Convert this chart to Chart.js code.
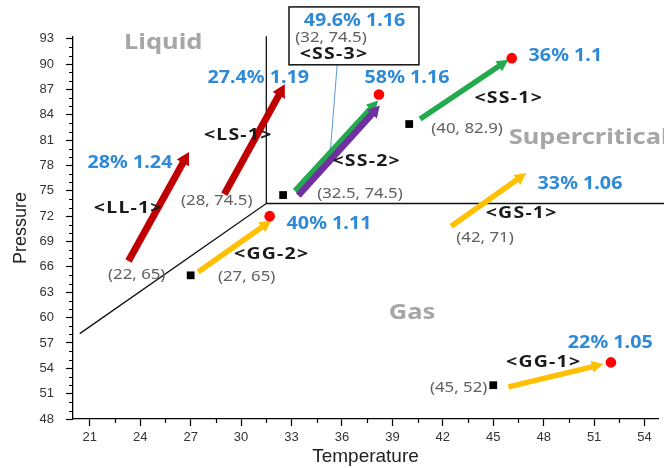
<!DOCTYPE html>
<html><head><meta charset="utf-8">
<script src="https://cdn.jsdelivr.net/npm/chart.js@4/dist/chart.umd.min.js"></script>
<style>html,body{margin:0;padding:0;background:#fff}</style>
</head><body>
<canvas id="c" width="664" height="468"></canvas>
<script>
// ---- axis ticks ----
const xTicks = [21, 24, 27, 30, 33, 36, 39, 42, 45, 48, 51, 54];
const yTicks = [48, 51, 54, 57, 60, 63, 66, 69, 72, 75, 78, 81, 84, 87, 90, 93];

// ---- runs (same order in every array) ----
const runNames   = ['<LL-1>', '<LS-1>', '<SS-2>', '<SS-3>', '<SS-1>', '<GS-1>', '<GG-2>', '<GG-1>'];
const runResults = ['28% 1.24', '27.4% 1.19', '58% 1.16', '49.6% 1.16', '36% 1.1', '33% 1.06', '40% 1.11', '22% 1.05'];
const runStarts  = ['(22, 65)', '(28, 74.5)', '(32.5, 74.5)', '(32, 74.5)', '(40, 82.9)', '(42, 71)', '(27, 65)', '(45, 52)'];
const arrowStartT = [23.3, 29.0, 33.2, 33.4, 40.65, 42.5, 27.44, 45.9];
const arrowStartP = [66.7, 74.6, 75.0, 74.45, 83.5, 70.8, 65.4, 51.8];
const arrowEndT   = [26.9, 32.6, 38.15, 38.25, 45.9, 46.97, 31.8, 51.55];
const arrowEndP   = [79.6, 87.6, 85.7, 85.1, 90.5, 77.1, 71.5, 54.5];

// ---- markers ----
const startMarkT = [27, 32.5, 40, 45];
const startMarkP = [65, 74.5, 82.9, 52];
const endMarkT = [31.7, 38.2, 46.1, 52.0];
const endMarkP = [72.0, 86.4, 90.7, 54.7];

// ---- phase boundaries ----
const critT = 31.5, critP = 73.5;
const boundaryLowT = 20.4, boundaryLowP = 58.1;
const boundaryTopP = 93.3, boundaryRightT = 56;
const phaseNames = ['Liquid', 'Supercritical', 'Gas'];

// ---- SS-3 callout leader ----
const leaderT = [35.79, 35.29];
const leaderP = [91.85, 79.17];

// ---------------- styles / layout ----------------
const arrowStyle = [
  {c:'#c00000', w:7, L:12, H:7},
  {c:'#c00000', w:7, L:12, H:7},
  {c:'#22aa4c', w:5.5, L:11, H:6},
  {c:'#7030a0', w:6.5, L:11, H:6.5},
  {c:'#22aa4c', w:5.5, L:11, H:6},
  {c:'#ffc000', w:5.5, L:11, H:6},
  {c:'#ffc000', w:5.5, L:11, H:6},
  {c:'#ffc000', w:5.5, L:11, H:6}
];
// label anchor positions (data coords) : name, result, start-coordinate
const namePos   = [[23.29,72.88],[29.83,81.53],[37.47,78.46],null,[45.92,85.93],[46.69,72.29],[31.82,67.48],[48.0,54.69]];
const resultPos = [[23.39,78.31],[31.02,88.34],[39.87,88.34],null,[49.29,90.98],[50.16,75.83],[35.23,71.02],[51.96,56.94]];
const startPos  = [[23.79,65.04],[28.55,73.77],[37.07,74.65],null,[43.44,82.32],[44.51,69.45],[30.33,64.8],[42.94,51.66]];
const phasePos  = [[25.37,92.55,'center'],[45.92,81.33,'left'],[40.17,60.6,'center']];
const calloutBox = {t0:32.85, t1:40.58, p0:96.76, p1:89.91};

const datasets = [];
for (let i = 0; i < arrowStartT.length; i++) {
  const s = arrowStyle[i];
  datasets.push({
    label: runNames[i],
    data: [{x: arrowStartT[i], y: arrowStartP[i]}, {x: arrowEndT[i], y: arrowEndP[i]}],
    showLine: true, borderColor: s.c, backgroundColor: s.c, borderWidth: s.w,
    borderCapStyle: 'butt', pointRadius: 0, isArrow: true, headLen: s.L, headHalf: s.H,
    order: 20 - i, clip: false
  });
}
datasets.push({
  label: 'start', data: startMarkT.map((t, i) => ({x: t, y: startMarkP[i]})),
  pointStyle: 'rect', pointRadius: 5.5, backgroundColor: '#000', borderWidth: 0, order: 1, clip: false
});
datasets.push({
  label: 'end', data: endMarkT.map((t, i) => ({x: t, y: endMarkP[i]})),
  pointStyle: 'circle', pointRadius: 5.3, backgroundColor: '#ff0000', borderWidth: 0, order: 0, clip: false
});
datasets.push({
  label: 'boundary', data: [{x: boundaryLowT, y: boundaryLowP}, {x: critT, y: critP}, {x: critT, y: boundaryTopP}],
  showLine: true, borderColor: '#111', borderWidth: 1.3, pointRadius: 0, order: 40, clip: false
});
datasets.push({
  label: 'boundary2', data: [{x: critT, y: critP}, {x: boundaryRightT, y: critP}],
  showLine: true, borderColor: '#111', borderWidth: 1.3, pointRadius: 0, order: 40, clip: false
});
datasets.push({
  label: 'leader', data: leaderT.map((t, i) => ({x: t, y: leaderP[i]})),
  showLine: true, borderColor: '#5b9bd5', borderWidth: 1, pointRadius: 0, order: 30, clip: false
});

function headGeom(chart, ds) {
  const xs = chart.scales.x, ys = chart.scales.y, d = ds.data;
  const x0 = xs.getPixelForValue(d[0].x), y0 = ys.getPixelForValue(d[0].y);
  const x1 = xs.getPixelForValue(d[1].x), y1 = ys.getPixelForValue(d[1].y);
  const len = Math.hypot(x1 - x0, y1 - y0);
  const ux = (x1 - x0) / len, uy = (y1 - y0) / len;
  return {x1, y1, ux, uy, nx: -uy, ny: ux, L: ds.headLen, W: ds.headHalf,
          bx: x1 - ux * ds.headLen, by: y1 - uy * ds.headLen};
}

const arrowPlugin = {
  id: 'arrowHeads',
  beforeDatasetDraw(chart, args) {
    const ds = chart.data.datasets[args.index];
    if (!ds.isArrow) return;
    const g = headGeom(chart, ds), ctx = chart.ctx, E = g.W + 6, F = g.L + 12;
    ctx.save();
    ctx.beginPath();
    ctx.rect(0, 0, chart.width, chart.height);
    ctx.moveTo(g.bx + g.nx * E, g.by + g.ny * E);
    ctx.lineTo(g.bx + g.nx * E + g.ux * F, g.by + g.ny * E + g.uy * F);
    ctx.lineTo(g.bx - g.nx * E + g.ux * F, g.by - g.ny * E + g.uy * F);
    ctx.lineTo(g.bx - g.nx * E, g.by - g.ny * E);
    ctx.closePath();
    ctx.clip('evenodd');
  },
  afterDatasetDraw(chart, args) {
    const ds = chart.data.datasets[args.index];
    if (!ds.isArrow) return;
    const ctx = chart.ctx;
    ctx.restore();
    const g = headGeom(chart, ds);
    const bx = g.bx - g.ux * 0.6, by = g.by - g.uy * 0.6;
    ctx.save();
    ctx.fillStyle = ds.borderColor;
    ctx.beginPath();
    ctx.moveTo(g.x1, g.y1);
    ctx.lineTo(bx + g.nx * g.W, by + g.ny * g.W);
    ctx.lineTo(bx - g.nx * g.W, by - g.ny * g.W);
    ctx.closePath();
    ctx.fill();
    ctx.restore();
  }
};

const minorTickPlugin = {
  id: 'minorTicks',
  afterDraw(chart) {
    const ctx = chart.ctx, xs = chart.scales.x, ys = chart.scales.y, a = chart.chartArea;
    ctx.save();
    ctx.strokeStyle = '#000'; ctx.lineWidth = 1.2;
    ctx.beginPath();
    for (let i = 0; i < xTicks.length - 1; i++) {
      const v = (xTicks[i] + xTicks[i + 1]) / 2, px = Math.round(xs.getPixelForValue(v)) + 0.5;
      ctx.moveTo(px, a.bottom); ctx.lineTo(px, a.bottom + 4);
    }
    for (let i = 0; i < yTicks.length - 1; i++) {
      const step = (yTicks[i + 1] - yTicks[i]) / 3;
      for (let k = 1; k < 3; k++) {
        const py = Math.round(ys.getPixelForValue(yTicks[i] + k * step)) + 0.5;
        ctx.moveTo(a.left, py); ctx.lineTo(a.left - 4, py);
      }
    }
    ctx.stroke();
    ctx.restore();
  }
};

function txt(ctx, s, x, y, font, color, align, sx, ls) {
  ctx.save();
  ctx.font = font; ctx.fillStyle = color; ctx.textAlign = align || 'center'; ctx.textBaseline = 'middle';
  if (ls) ctx.letterSpacing = ls;
  ctx.translate(x, y); ctx.scale(sx || 1, 1);
  ctx.fillText(s, 0, 0);
  ctx.restore();
}

const FONT = '"Noto Sans", "DejaVu Sans", sans-serif';
const NAME_F = 'bold 16px ' + FONT, RES_F = 'bold 17px ' + FONT, COORD_F = '14px ' + FONT;
const labelPlugin = {
  id: 'labels',
  afterDraw(chart) {
    const ctx = chart.ctx, xs = chart.scales.x, ys = chart.scales.y;
    const X = v => xs.getPixelForValue(v), Y = v => ys.getPixelForValue(v);
    phaseNames.forEach((n, i) => {
      const p = phasePos[i];
      txt(ctx, n, X(p[0]), Y(p[1]), 'bold 22px ' + FONT, '#a6a6a6', p[2], 1.16);
    });
    for (let i = 0; i < runNames.length; i++) {
      if (!namePos[i]) continue;
      txt(ctx, runNames[i], X(namePos[i][0]), Y(namePos[i][1]), NAME_F, '#1a1a1a', 'center', 1.22, '1px');
      txt(ctx, runResults[i], X(resultPos[i][0]), Y(resultPos[i][1]), RES_F, '#2e8ad6', 'center', 1.16);
      txt(ctx, runStarts[i], X(startPos[i][0]), Y(startPos[i][1]), COORD_F, '#606060', 'center', 1.2);
    }
    // SS-3 callout box
    const bx0 = X(calloutBox.t0), bx1 = X(calloutBox.t1), by0 = Y(calloutBox.p0), by1 = Y(calloutBox.p1);
    ctx.save();
    ctx.fillStyle = '#fff'; ctx.fillRect(bx0, by0, bx1 - bx0, by1 - by0);
    ctx.strokeStyle = '#111'; ctx.lineWidth = 1.5; ctx.strokeRect(bx0, by0, bx1 - bx0, by1 - by0);
    ctx.restore();
    const h = by1 - by0;
    txt(ctx, runResults[3], bx0 + 65.5, by0 + h * 0.25, RES_F, '#2e8ad6', 'center', 1.16);
    txt(ctx, runStarts[3], bx0 + 42, by0 + h * 0.53, COORD_F, '#606060', 'center', 1.2);
    txt(ctx, runNames[3], bx0 + 45, by0 + h * 0.82, NAME_F, '#1a1a1a', 'center', 1.22, '1px');
  }
};

const axisFont = {family: '"Liberation Sans", Arial, sans-serif', size: 13};
new Chart(document.getElementById('c'), {
  type: 'scatter',
  data: {datasets},
  options: {
    responsive: false, animation: false, events: [],
    layout: {padding: {top: 37, right: 6, left: 0, bottom: 0}},
    plugins: {legend: {display: false}, tooltip: {enabled: false}},
    scales: {
      x: {
        type: 'linear', min: 20, max: 54.8,
        afterBuildTicks: s => { s.ticks = xTicks.map(v => ({value: v})); },
        afterFit: s => { s.height = 49; },
        ticks: {color: '#333', font: axisFont, padding: 4, maxRotation: 0, autoSkip: false},
        grid: {drawOnChartArea: false, drawTicks: true, tickLength: 7, color: '#000', tickWidth: 1.2},
        border: {display: true, color: '#000', width: 1.3},
        title: {display: true, text: 'Temperature', color: '#222', font: {family: '"Liberation Sans", Arial, sans-serif', size: 19}, padding: {top: 0, bottom: 0}}
      },
      y: {
        type: 'linear', min: 48, max: 93.2,
        afterBuildTicks: s => { s.ticks = yTicks.map(v => ({value: v})); },
        afterFit: s => { s.width = 73; },
        ticks: {color: '#333', font: axisFont, padding: 12, autoSkip: false},
        grid: {drawOnChartArea: false, drawTicks: true, tickLength: 7, color: '#000', tickWidth: 1.2},
        border: {display: true, color: '#000', width: 1.3},
        title: {display: true, text: 'Pressure', color: '#222', font: {family: '"Liberation Sans", Arial, sans-serif', size: 18}, padding: {top: 10, bottom: 0}}
      }
    }
  },
  plugins: [arrowPlugin, minorTickPlugin, labelPlugin]
});
</script>
</body></html>
